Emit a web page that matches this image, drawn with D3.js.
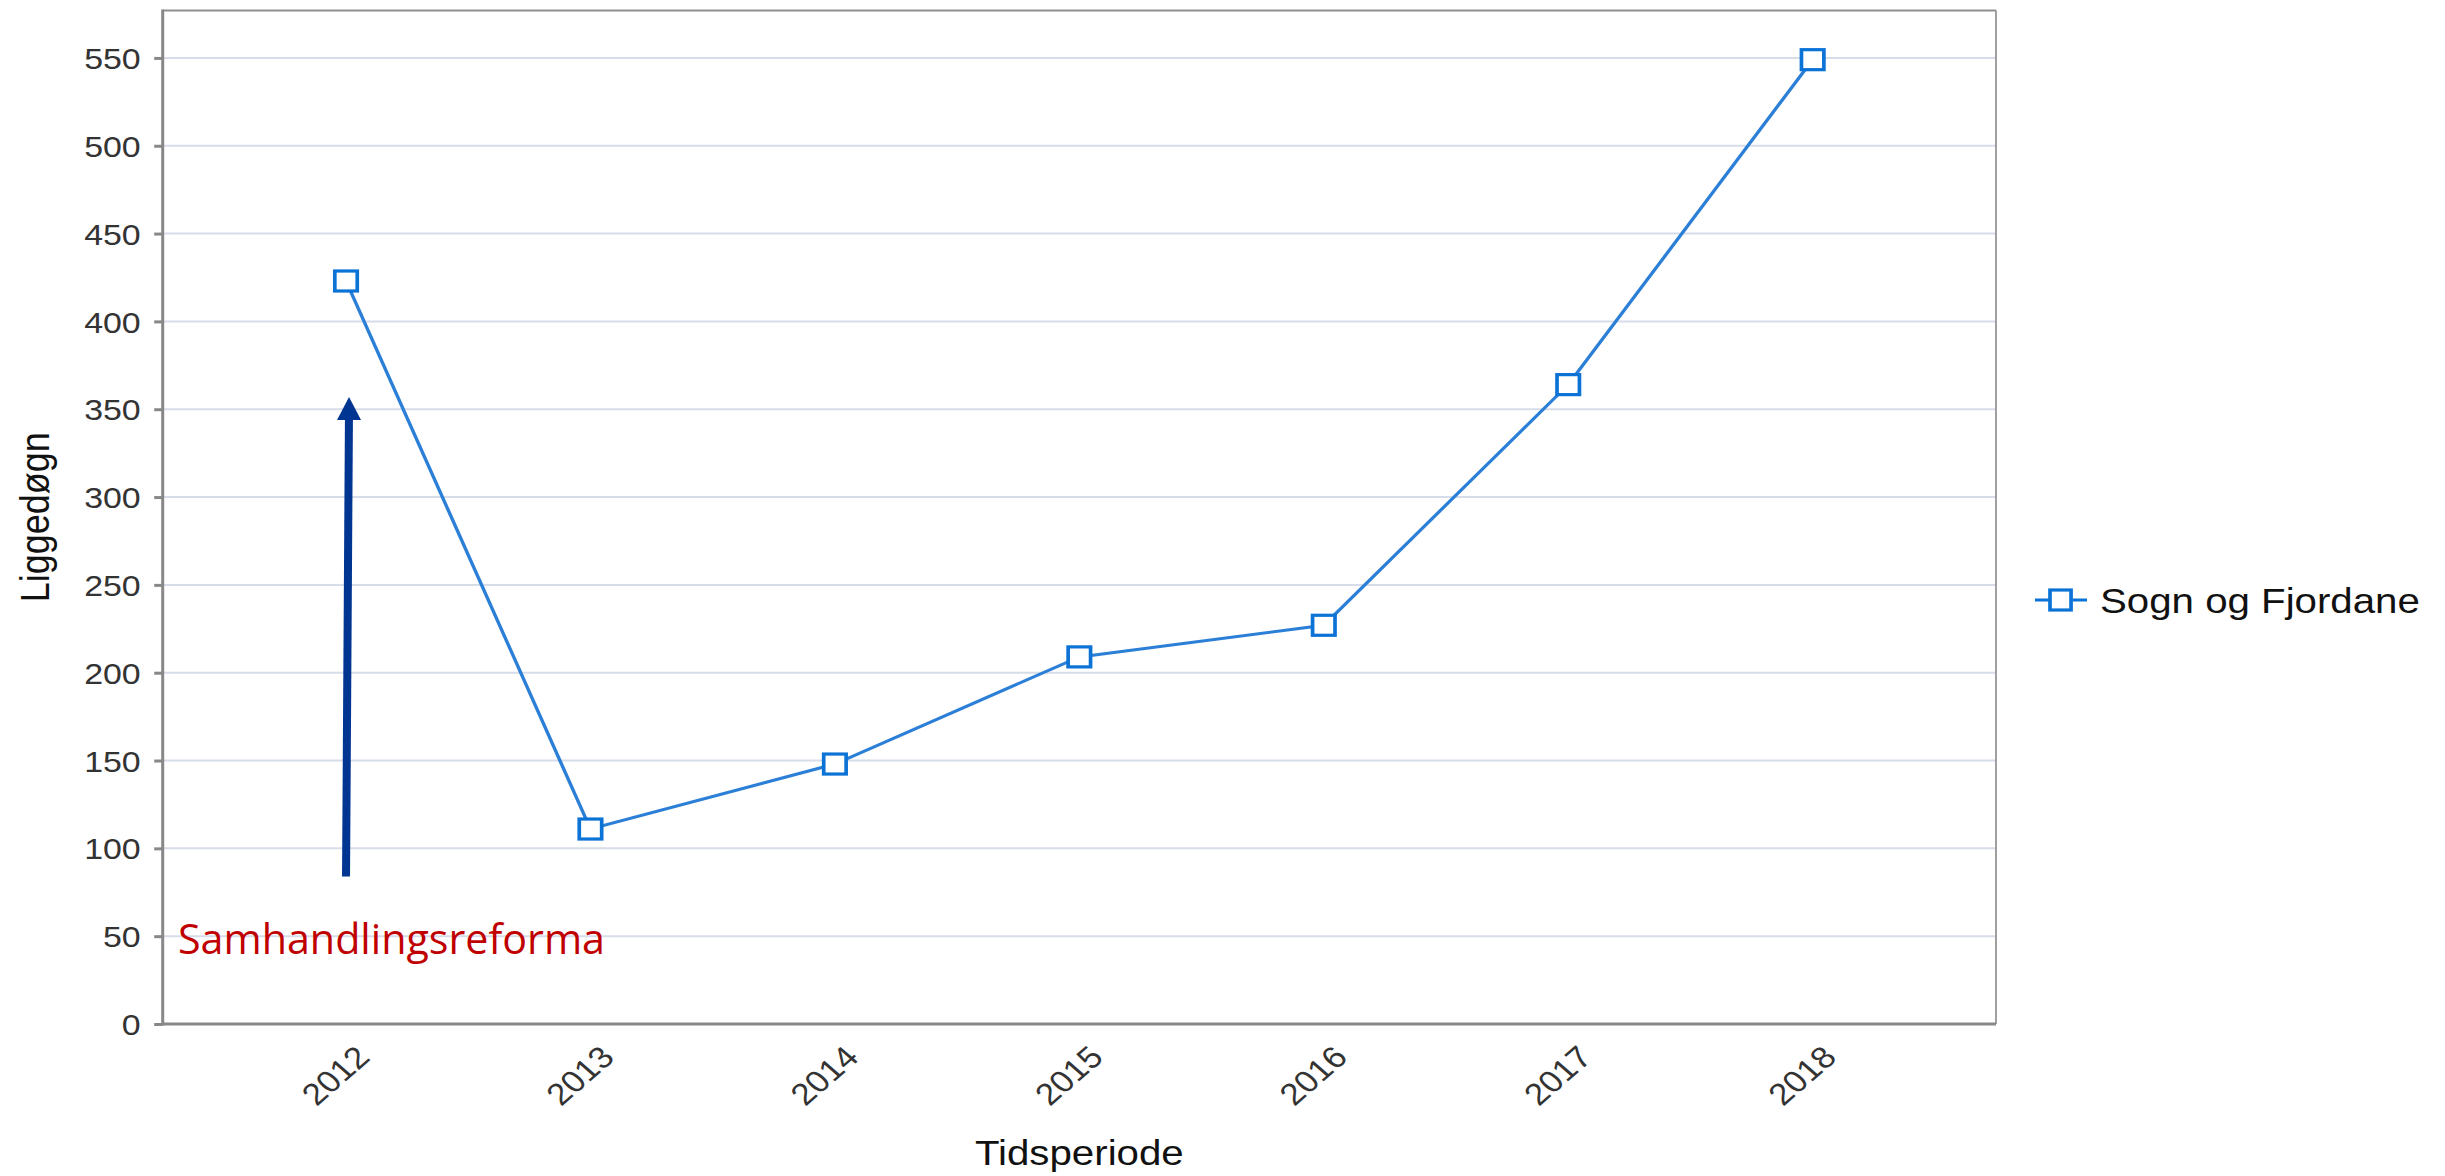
<!DOCTYPE html>
<html>
<head>
<meta charset="utf-8">
<script src="https://cdn.jsdelivr.net/npm/d3@7"></script>
<style>
  html, body { margin: 0; padding: 0; background: #ffffff; }
  #wrap { position: relative; width: 2445px; height: 1176px; overflow: hidden; }
  #wrap svg { position: absolute; left: 0; top: 0; }
</style>
</head>
<body>
<div id="wrap"></div>
<script>
// ---- data ----
const years = ["2012", "2013", "2014", "2015", "2016", "2017", "2018"];
const values = [423, 111, 148, 209, 227, 364, 549];
const yTicks = [0, 50, 100, 150, 200, 250, 300, 350, 400, 450, 500, 550];
const seriesName = "Sogn og Fjordane";
const xTitle = "Tidsperiode";
const yTitle = "Liggedøgn";
const annotationText = "Samhandlingsreforma";
const arrowFrom = 84;   // value at arrow tail
const arrowTo = 357;    // value at arrow tip

// ---- layout ----
const W = 2445, H = 1176;
const SX = 1.15;               // horizontal stretch of the original picture
const VW = W / SX;
const pLeft = 162.7 / SX, pRight = 1996 / SX, pTop = 10.5, pBottom = 1024;
const FONT = "'Liberation Sans', Arial, Helvetica, sans-serif";

const wrap = d3.select("#wrap");
const svg = wrap.append("svg")
  .attr("width", W).attr("height", H)
  .attr("viewBox", `0 0 ${VW} ${H}`)
  .attr("preserveAspectRatio", "none");

const x = d3.scalePoint().domain(years).range([pLeft, pRight]).padding(0.75);
const y = d3.scaleLinear().domain([0, 577]).range([pBottom, pTop]);

// gridlines
svg.append("g").selectAll("line")
  .data(yTicks.filter(d => d > 0))
  .join("line")
  .attr("x1", pLeft).attr("x2", pRight)
  .attr("y1", d => y(d)).attr("y2", d => y(d))
  .attr("stroke", "#d6dde9").attr("stroke-width", 2);

// top & right border
svg.append("line").attr("x1", pLeft).attr("x2", pRight).attr("y1", pTop).attr("y2", pTop)
  .attr("stroke", "#8f8f8f").attr("stroke-width", 2);
svg.append("line").attr("x1", pRight).attr("x2", pRight).attr("y1", pTop).attr("y2", pBottom)
  .attr("stroke", "#8f8f8f").attr("stroke-width", 1.7 / SX);

// y axis
const yAxis = svg.append("g")
  .attr("transform", `translate(${pLeft},0)`)
  .call(d3.axisLeft(y).tickValues(yTicks).tickSize(8.5 / SX).tickPadding(13.5 / SX));
yAxis.select(".domain").remove();
yAxis.selectAll(".tick line").attr("stroke", "#888").attr("stroke-width", 3);
yAxis.selectAll(".tick text")
  .attr("font-family", FONT).attr("font-size", 29.5).attr("fill", "#333")
  .attr("dy", "0.36em");
svg.append("line").attr("x1", pLeft).attr("x2", pLeft).attr("y1", pTop - 1).attr("y2", pBottom + 1.5)
  .attr("stroke", "#888").attr("stroke-width", 3 / SX);

// x axis
const xAxis = svg.append("g")
  .attr("transform", `translate(0,${pBottom})`)
  .call(d3.axisBottom(x).tickSize(0));
xAxis.select(".domain").remove();
xAxis.selectAll(".tick text")
  .attr("font-family", FONT).attr("font-size", 30.5).attr("fill", "#333")
  .attr("text-anchor", "end")
  .attr("x", 0).attr("y", 0).attr("dy", null)
  .attr("transform", `translate(${25 / SX},35) rotate(-45)`);
svg.append("line").attr("x1", pLeft).attr("x2", pRight).attr("y1", pBottom).attr("y2", pBottom)
  .attr("stroke", "#888").attr("stroke-width", 3);

// axis titles
svg.append("text")
  .attr("x", (pLeft + pRight) / 2).attr("y", 1165)
  .attr("text-anchor", "middle")
  .attr("font-family", FONT).attr("font-size", 35).attr("fill", "#111")
  .text(xTitle);
svg.append("text")
  .attr("transform", `translate(${49 / SX},${(pTop + pBottom) / 2}) rotate(-90)`)
  .attr("text-anchor", "middle")
  .attr("font-family", FONT).attr("font-size", 36).attr("fill", "#111")
  .text(yTitle);

// series line
const pts = years.map((yr, i) => ({ year: yr, value: values[i] }));
svg.append("path")
  .datum(pts)
  .attr("fill", "none")
  .attr("stroke", "#2b7fd6")
  .attr("stroke-width", 3)
  .attr("d", d3.line().x(d => x(d.year)).y(d => y(d.value)));

// markers
const mw = 19.5, mh = 20;
svg.append("g").selectAll("rect")
  .data(pts)
  .join("rect")
  .attr("x", d => x(d.year) - mw / 2)
  .attr("y", d => y(d.value) - mh / 2)
  .attr("width", mw).attr("height", mh)
  .attr("fill", "#ffffff")
  .attr("stroke", "#0b72d6")
  .attr("stroke-width", 3.2);

// legend
const lgY = 600;
const lg = svg.append("g");
lg.append("line").attr("x1", 2035 / SX).attr("x2", 2087 / SX).attr("y1", lgY).attr("y2", lgY)
  .attr("stroke", "#0b72d6").attr("stroke-width", 3);
lg.append("rect").attr("x", 2050 / SX).attr("y", lgY - 10)
  .attr("width", 18.3).attr("height", 20)
  .attr("fill", "#ffffff").attr("stroke", "#0b72d6").attr("stroke-width", 3.2);
lg.append("text").attr("x", 2100 / SX).attr("y", lgY + 13)
  .attr("font-family", FONT).attr("font-size", 35).attr("fill", "#111")
  .text(seriesName);

// ---- overlay annotation (not stretched) ----
const ov = wrap.append("svg").attr("width", W).attr("height", H);
const ax = x(years[0]) * SX;
const tipX = ax + 3, tipY = y(arrowTo);
const headLen = 23, headW = 24;
ov.append("line")
  .attr("x1", ax).attr("y1", y(arrowFrom))
  .attr("x2", tipX - 0.1).attr("y2", tipY + headLen - 1)
  .attr("stroke", "#003591").attr("stroke-width", 8);
ov.append("polygon")
  .attr("points", `${tipX},${tipY} ${tipX - headW / 2},${tipY + headLen} ${tipX + headW / 2},${tipY + headLen}`)
  .attr("fill", "#003591");
ov.append("text")
  .attr("x", ax - 168).attr("y", y(40))
  .attr("font-family", "'Open Sans', 'Noto Sans', sans-serif")
  .attr("font-size", 41.5).attr("fill", "#c00000")
  .attr("textLength", 427).attr("lengthAdjust", "spacingAndGlyphs")
  .text(annotationText);
</script>
</body>
</html>
